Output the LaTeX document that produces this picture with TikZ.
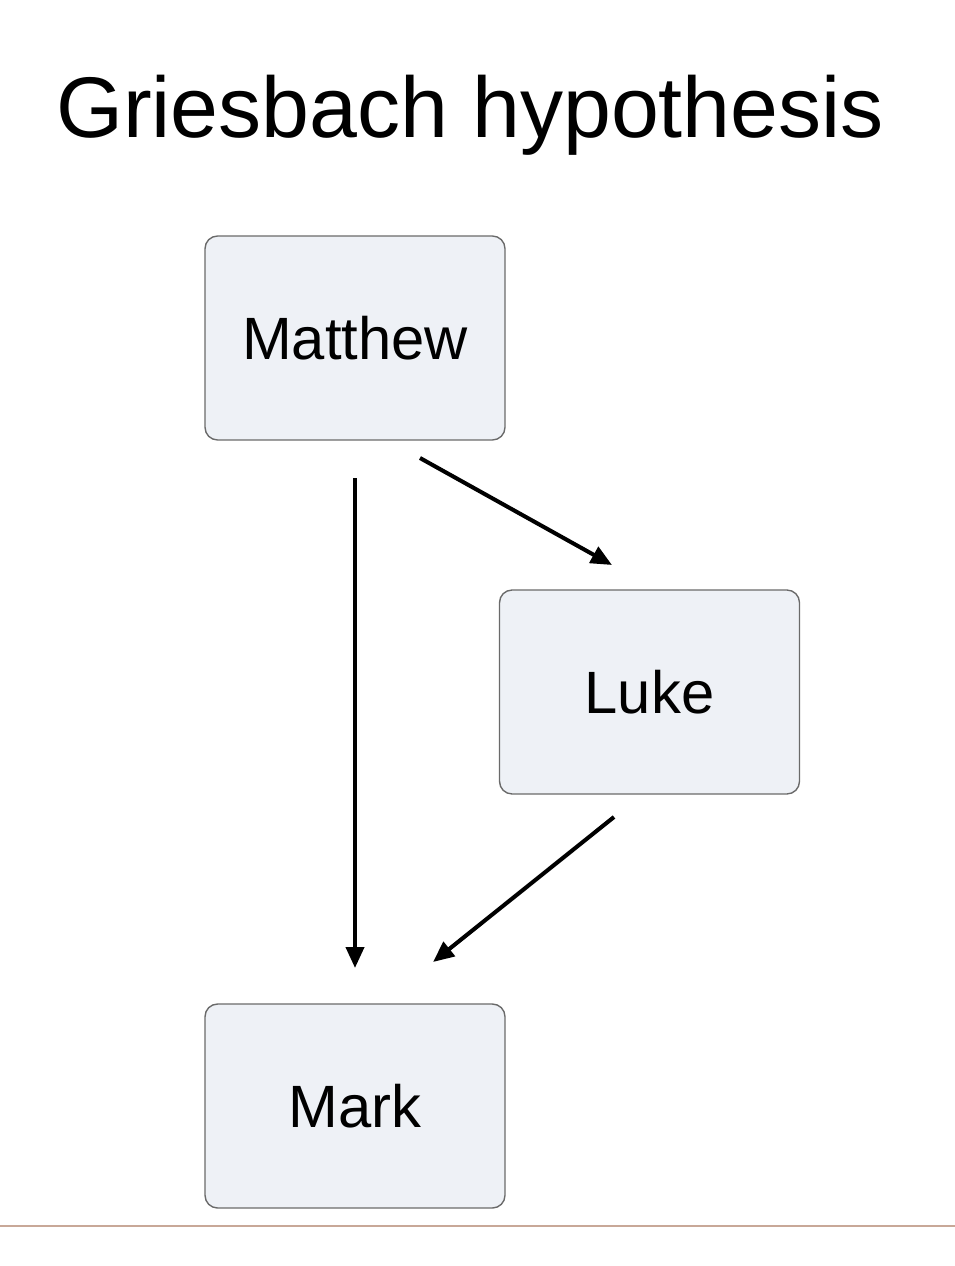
\documentclass[tikz,border=0pt]{standalone}
\usepackage{fontspec}
\setmainfont{Liberation Sans}
\usetikzlibrary{arrows.meta}
\definecolor{boxfill}{HTML}{EEF1F6}
\definecolor{boxdraw}{HTML}{6A6A6A}
\definecolor{rule}{HTML}{C8A898}
\begin{document}
\begin{tikzpicture}[x=0.02cm,y=-0.02cm,
  gbox/.style={draw=boxdraw,fill=boxfill,line width=0.8pt,rounded corners=0.25cm,minimum width=6cm,minimum height=4.08cm,font=\fontsize{34}{40}\selectfont},
  conn/.style={line width=2.3pt,-{Triangle[length=0.42cm,width=0.36cm]}}]
\useasboundingbox (0,0) rectangle (955,1266);
\node[font=\fontsize{49}{58}\selectfont,anchor=base] (title) at (470,138) {Griesbach hypothesis};
\node[gbox] (matthew) at (355,338) {Matthew};
\node[gbox] (luke) at (649.5,692) {Luke};
\node[gbox] (mark) at (355,1106) {Mark};
\coordinate (a1) at (355,478); \coordinate (a2) at (355,968);
\coordinate (b1) at (420,458); \coordinate (b2) at (612,565);
\coordinate (c1) at (614,817); \coordinate (c2) at (433,962);
\draw[conn] (a1) -- (a2);
\draw[conn] (b1) -- (b2);
\draw[conn] (c1) -- (c2);
\draw[rule,line width=0.8pt] (0,1226) -- (955,1226);
\end{tikzpicture}
\end{document}
